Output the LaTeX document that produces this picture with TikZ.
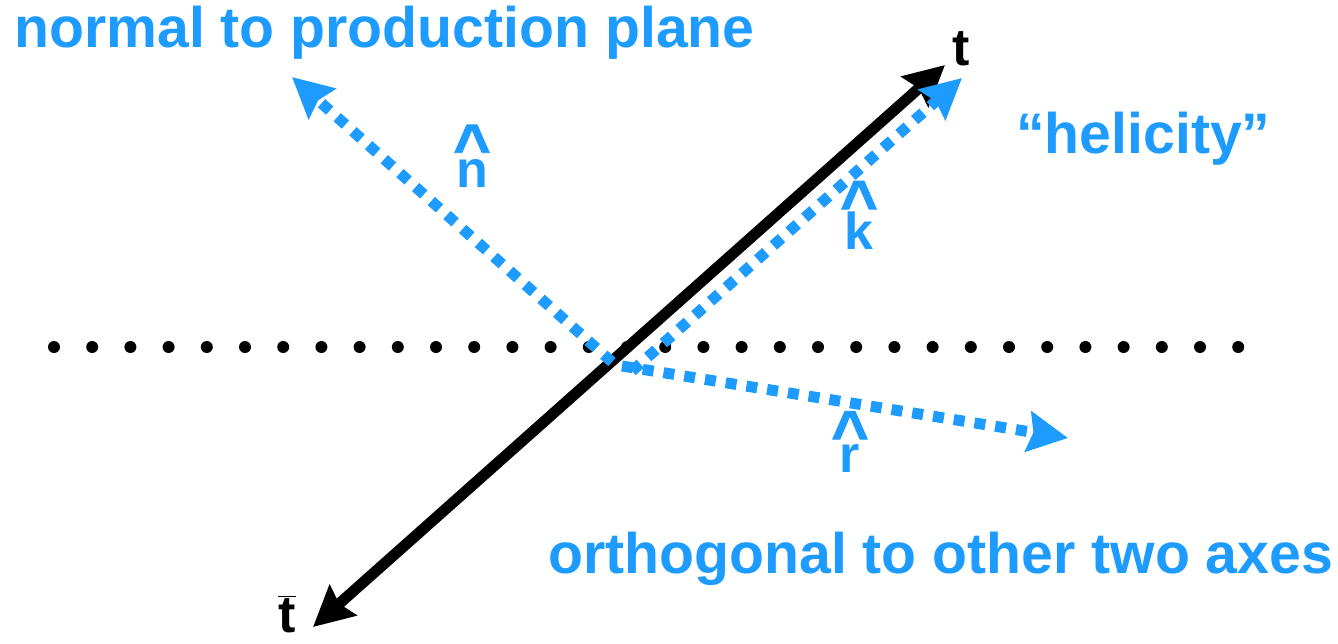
\documentclass[tikz,border=0pt]{standalone}
\usepackage{fontspec}
\setmainfont{Liberation Sans}
\newfontfamily\caretfont[FakeBold=1.5]{Liberation Sans Bold}
\usetikzlibrary{arrows.meta}
\definecolor{axblue}{RGB}{30,155,255}
\newcommand\hatsym[2]{\vbox{\offinterlineskip\halign{\hfil##\hfil\cr{\caretfont\fontsize{64}{64}\selectfont\textasciicircum}\cr\noalign{\kern#1}#2\cr}}}
\begin{document}
\begin{tikzpicture}[x=1pt,y=-1pt,
  lbl/.style={inner sep=0pt, text=axblue, font=\fontsize{57.2}{60}\selectfont\bfseries, anchor=base west},
  sym/.style={inner sep=0pt, font=\fontsize{52}{56}\selectfont\bfseries, anchor=base},
  hsym/.style={inner sep=0pt, text=axblue, font=\fontsize{52}{56}\selectfont\bfseries, anchor=south},
  quark/.style={line width=11pt, {Stealth[length=40pt,width=40pt,inset=5pt]}-{Stealth[length=40pt,width=40pt,inset=5pt]}},
  axisline/.style={line width=11pt, draw=axblue, dash pattern=on 11pt off 10pt, -{Stealth[length=40pt,width=40pt,inset=5pt,fill=axblue]}},
  dotline/.style={line width=12pt, line cap=round, dash pattern=on 0pt off 38.2pt}]
\useasboundingbox (0,0) rectangle (1338,643);
% dotted line
\coordinate (dl) at (54,347);
\coordinate (dr) at (1240,347);
\draw[dotline] (dl) -- (dr);
% black t / tbar arrow
\coordinate (tb) at (313,627);
\coordinate (tt) at (945,65);
\draw[quark] (tb) -- (tt);
% blue axes
\coordinate (on) at (612,362);
\coordinate (nt) at (292,77);
\coordinate (ok) at (632,371);
\coordinate (kt) at (962,78);
\coordinate (or) at (622,366);
\coordinate (rt) at (1068,438);
\draw[axisline] (on) -- (nt);
\draw[axisline] (ok) -- (kt);
\draw[axisline] (or) -- (rt);
% texts
\node[lbl] (np) at (14,47) {normal to production plane};
\node[lbl] (hel) at (1016,153) {“helicity”};
\node[lbl] (orth) at (548,573) {orthogonal to other two axes};
\node[hsym] (nhat) at (472,188) {\hatsym{-9pt}{n}};
\node[hsym] (khat) at (859,250) {\hatsym{-13pt}{k}};
\node[hsym] (rhat) at (850,473) {\hatsym{-10.5pt}{r}};
\node[sym] (tl) at (961,65) {t};
\node[sym] (tbl) at (287,632) {$\overline{\mbox{t}}$};
\end{tikzpicture}
\end{document}
